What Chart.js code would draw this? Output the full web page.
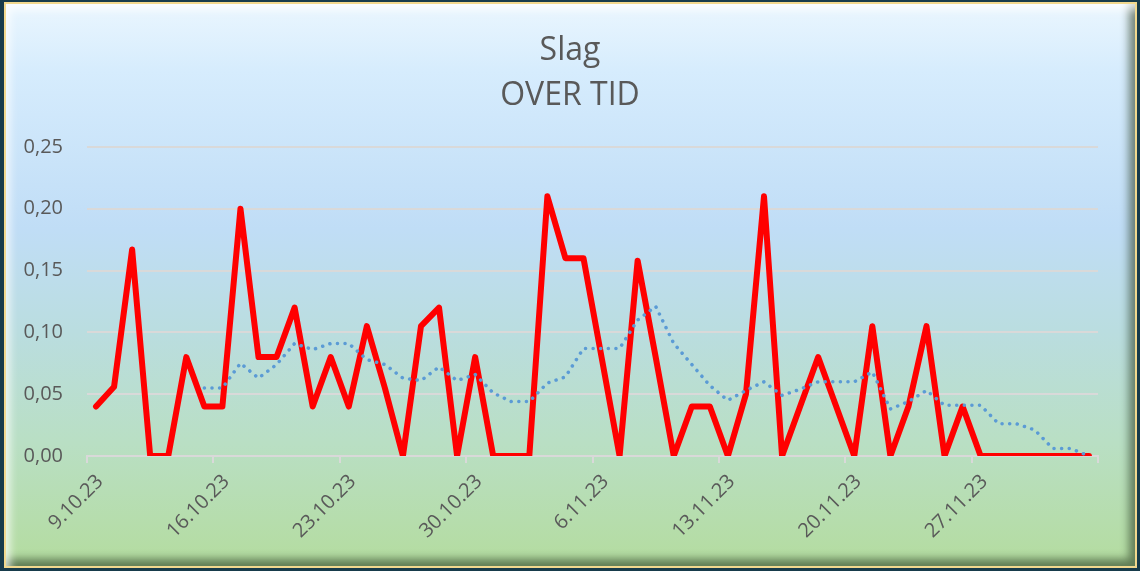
<!DOCTYPE html>
<html>
<head>
<meta charset="utf-8">
<script src="https://cdn.jsdelivr.net/npm/chart.js@4.4.0/dist/chart.umd.min.js"></script>
<style>
	html, body {
		margin: 0;
		padding: 0;
		width: 1140px;
		height: 571px;
		overflow: hidden;
		background: #173b4b;
	}
	.panel {
		position: absolute;
		left: 4px;
		top: 2px;
		width: 1133px;
		height: 566px;
		box-sizing: border-box;
		border: 2px solid #f1d88e;
		background: linear-gradient(
			to bottom,
			#eaf6fe 0%,
			#d6ecfd 12%,
			#c0ddf6 40%,
			#badde0 58%,
			#b9dfc4 78%,
			#b4dc9f 100%
		);
		box-shadow: inset 6px 8px 8px -2px rgba(255, 255, 255, 0.75),
			inset -8px -9px 8px -2px rgba(40, 60, 35, 0.6);
	}
	.wrap {
		position: absolute;
		left: 0;
		top: 0;
		width: 1140px;
		height: 571px;
	}
</style>
</head>
<body>
<div class="panel"></div>
<div class="wrap"><canvas id="chart" width="1140" height="571"></canvas></div>
<script>
// Categories (one per day)
const days = [
	"9.10.23", "10.10.23", "11.10.23", "12.10.23", "13.10.23", "14.10.23", "15.10.23",
	"16.10.23", "17.10.23", "18.10.23", "19.10.23", "20.10.23", "21.10.23", "22.10.23",
	"23.10.23", "24.10.23", "25.10.23", "26.10.23", "27.10.23", "28.10.23", "29.10.23",
	"30.10.23", "31.10.23", "1.11.23", "2.11.23", "3.11.23", "4.11.23", "5.11.23",
	"6.11.23", "7.11.23", "8.11.23", "9.11.23", "10.11.23", "11.11.23", "12.11.23",
	"13.11.23", "14.11.23", "15.11.23", "16.11.23", "17.11.23", "18.11.23", "19.11.23",
	"20.11.23", "21.11.23", "22.11.23", "23.11.23", "24.11.23", "25.11.23", "26.11.23",
	"27.11.23", "28.11.23", "29.11.23", "30.11.23", "1.12.23", "2.12.23", "3.12.23",
];

// Slag per day
const slag = [
	0.04, 0.056, 0.167, 0, 0, 0.08, 0.04,
	0.04, 0.2, 0.08, 0.08, 0.12, 0.04, 0.08,
	0.04, 0.105, 0.055, 0, 0.105, 0.12, 0,
	0.08, 0, 0, 0, 0.21, 0.16, 0.16,
	0.08, 0, 0.158, 0.08, 0, 0.04, 0.04,
	0, 0.05, 0.21, 0, 0.04, 0.08, 0.04,
	0, 0.105, 0, 0.04, 0.105, 0, 0.04,
	0, 0, 0, 0, 0, 0, 0,
];

// Moving average trend (dotted)
const trend = [
	null, null, null, null, null, null, 0.055,
	0.055, 0.075, 0.063, 0.074, 0.091, 0.086, 0.091,
	0.091, 0.078, 0.074, 0.063, 0.061, 0.072, 0.061,
	0.066, 0.051, 0.044, 0.044, 0.059, 0.064, 0.087,
	0.087, 0.087, 0.11, 0.121, 0.091, 0.074, 0.057,
	0.045, 0.053, 0.06, 0.049, 0.054, 0.06, 0.06,
	0.06, 0.068, 0.038, 0.044, 0.053, 0.041, 0.041,
	0.041, 0.026, 0.026, 0.021, 0.006, 0.006, 0,
];

const yTicks = [0, 0.05, 0.1, 0.15, 0.2, 0.25];
const titleLines = ["Slag", "OVER TID"];

const textColor = "#595959";
const gridColor = "#d9d9d9";

const ctx = document.getElementById("chart").getContext("2d");
const chart = new Chart(ctx, {
	type: "line",
	data: {
		labels: days,
		datasets: [
			{
				label: "Slag",
				data: slag,
				borderColor: "#ff0000",
				borderWidth: 6,
				borderJoinStyle: "round",
				borderCapStyle: "round",
				pointRadius: 0,
				tension: 0,
				order: 1,
			},
			{
				label: "Trend",
				data: trend,
				borderColor: "#5b9bd5",
				borderWidth: 3.5,
				borderCapStyle: "round",
				borderDash: [0.1, 7.5],
				pointRadius: 0,
				tension: 0,
				order: 0,
			},
		],
	},
	options: {
		responsive: false,
		animation: false,
		events: [],
		layout: {
			padding: 0,
		},
		plugins: {
			legend: { display: false },
			tooltip: { enabled: false },
			title: {
				display: true,
				text: titleLines,
				color: textColor,
				font: { family: "'Open Sans', sans-serif", size: 32, weight: "normal", lineHeight: 1.42 },
				padding: { top: 28, bottom: 28 },
			},
		},
		scales: {
			x: {
				offset: true,
				grid: {
					offset: true,
					drawOnChartArea: false,
					drawTicks: true,
					tickLength: 7,
					lineWidth: 2,
					color: (c) => (c.type !== "tick" || c.index % 7 === 0 ? gridColor : "transparent"),
				},
				border: { display: true, color: gridColor, width: 2 },
				ticks: {
					autoSkip: false,
					maxRotation: 45,
					minRotation: 45,
					padding: 7,
					labelOffset: 4,
					color: textColor,
					font: { family: "'Open Sans', sans-serif", size: 20 },
					callback: function (value, index) {
						return index % 7 === 0 ? days[index] : "";
					},
				},
				afterFit: (scale) => {
					scale.height = 571 - 456;
				},
			},
			y: {
				min: 0,
				max: 0.25,
				afterBuildTicks: (scale) => {
					scale.ticks = yTicks.map((v) => ({ value: v }));
				},
				grid: {
					color: gridColor,
					lineWidth: 2,
					drawTicks: false,
				},
				border: { display: false },
				ticks: {
					padding: 24,
					color: textColor,
					font: { family: "'Open Sans', sans-serif", size: 20 },
					callback: (v) => v.toFixed(2).replace(".", ","),
				},
				afterFit: (scale) => {
					scale.width = 87;
				},
			},
			// empty right margin so the title stays centred on the canvas
			yRight: {
				position: "right",
				display: true,
				grid: { display: false },
				border: { display: false },
				ticks: { display: false },
				afterFit: (scale) => {
					scale.width = 42;
				},
			},
		},
	},
});
</script>
</body>
</html>
